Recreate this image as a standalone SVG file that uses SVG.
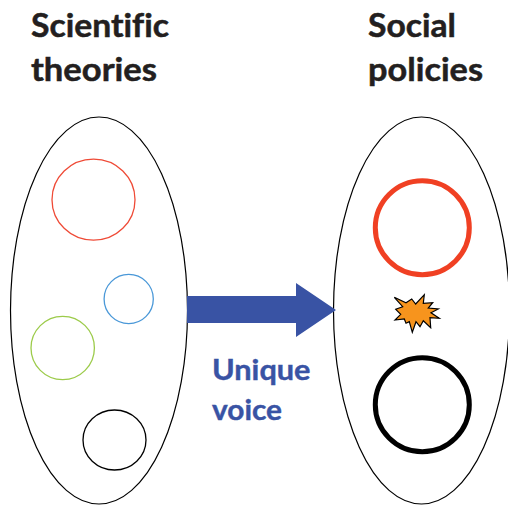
<svg xmlns="http://www.w3.org/2000/svg" width="508" height="507" viewBox="0 0 508 507">
<style>
.t{font-family:Lato,"Liberation Sans",sans-serif;font-weight:700;font-size:32px;fill:#231f20;stroke:#231f20;stroke-width:.5;font-variant-ligatures:none}
.b{font-family:Lato,"Liberation Sans",sans-serif;font-weight:700;font-size:29px;fill:#3953a4;stroke:#3953a4;stroke-width:.4;font-variant-ligatures:none}
.o{fill:none;stroke:#000;stroke-width:1.200}
.thin{fill:none;stroke-width:1.300}
.thick{fill:none;stroke-width:5}
</style>
<rect width="508" height="507" fill="#fff"/>
<g id="title-left">
<text class="t" x="31" y="36.500" textLength="138" lengthAdjust="spacingAndGlyphs">Scientific</text>
<text class="t" x="31" y="80.500" textLength="126" lengthAdjust="spacingAndGlyphs">theories</text>
</g>
<g id="title-right">
<text class="t" x="368" y="36.500" textLength="88" lengthAdjust="spacingAndGlyphs">Social</text>
<text class="t" x="368" y="80.500" textLength="115" lengthAdjust="spacingAndGlyphs">policies</text>
</g>
<g id="scientific-theories">
<ellipse class="o" cx="99" cy="310.500" rx="88.500" ry="193.500"/>
<ellipse class="thin" cx="93.500" cy="199.700" rx="41.500" ry="40.500" stroke="#ef4a36"/>
<circle class="thin" cx="128.700" cy="299" r="24.600" stroke="#4a98d8"/>
<circle class="thin" cx="62.700" cy="348" r="31.700" stroke="#9ccb4a"/>
<ellipse class="thin" cx="114.500" cy="440" rx="31.500" ry="30" stroke="#000"/>
</g>
<g id="social-policies">
<ellipse class="o" cx="421.500" cy="310.500" rx="88" ry="193.500"/>
<circle class="thick" cx="422.300" cy="227.800" r="47" stroke="#f04023"/>
<circle class="thick" cx="422.300" cy="404.800" r="47" stroke="#000"/>
<polygon points="394.300,297.300 406,302.700 411.700,299 415.700,304 424.300,294.700 423.300,303.300 432.700,302.700 428.300,308 438.300,309 431,312.700 439.300,318.300 430,317.700 430.700,327.700 423.300,320.700 420,326.700 416,321.700 412.300,332.300 409.300,321.700 406,323.300 404.300,319 395,320 400.700,314.300 395.700,309.300 402.700,306.700" fill="#f7941d" stroke="#000" stroke-width="1.200"/>
</g>
<g id="connectors">
<polygon points="187,296 296,296 296,283 336,310 296,337 296,323 187,323" fill="#3953a4"/>
</g>
<g id="label">
<text class="b" x="212" y="379.500" textLength="98.500" lengthAdjust="spacingAndGlyphs">Unique</text>
<text class="b" x="212" y="420" textLength="70" lengthAdjust="spacingAndGlyphs">voice</text>
</g>
</svg>
